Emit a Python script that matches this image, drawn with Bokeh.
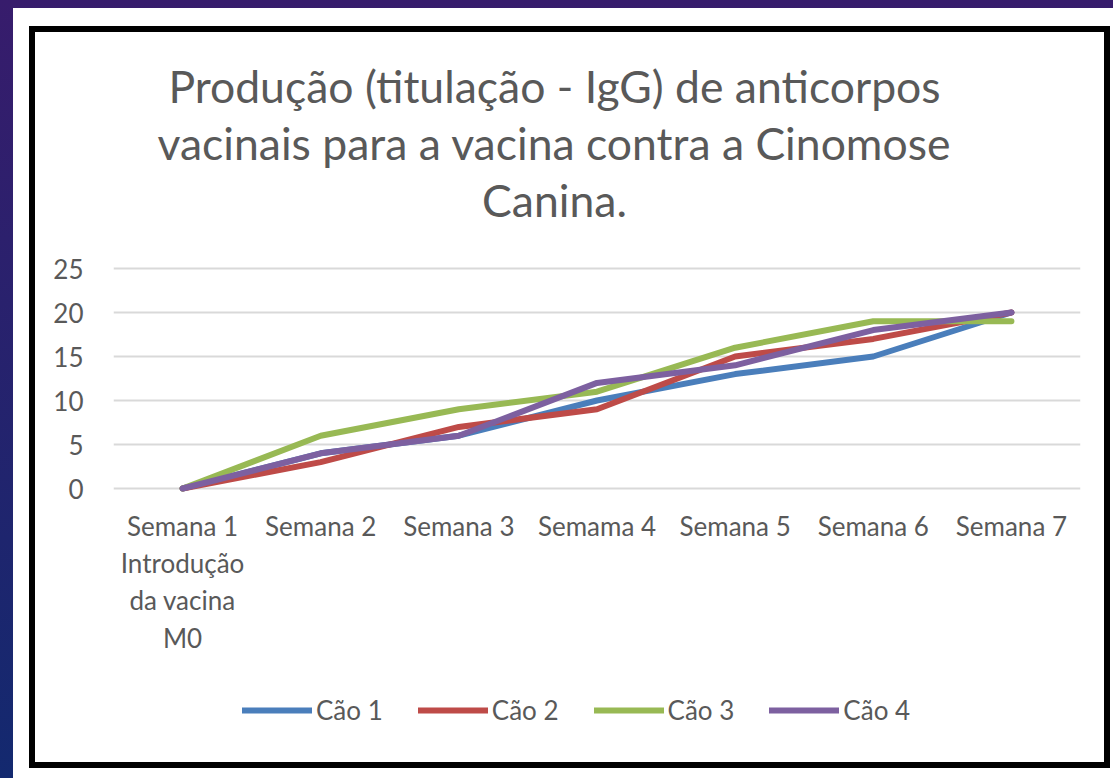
from bokeh.plotting import figure
from bokeh.models import (FactorRange, Range1d, FixedTicker, Legend, LegendItem,
                          Label, GlobalInlineStyleSheet)
from bokeh.embed import file_html
from bokeh.resources import INLINE

# ---- data ----
weeks = ["Semana 1\nIntrodução\nda vacina\nM0", "Semana 2", "Semana 3", "Semama 4",
         "Semana 5", "Semana 6", "Semana 7"]
cao1 = [0, 4, 6, 10, 13, 15, 20]
cao2 = [0, 3, 7, 9, 15, 17, 20]
cao3 = [0, 6, 9, 11, 16, 19, 19]
cao4 = [0, 4, 6, 12, 14, 18, 20]
series_names = ["Cão 1", "Cão 2", "Cão 3", "Cão 4"]
series_colors = ["#4A7EBB", "#BE4B48", "#98B954", "#7D60A0"]
y_ticks = [0, 5, 10, 15, 20, 25]
title_lines = ["Produção (titulação - IgG) de anticorpos",
               "vacinais para a vacina contra a Cinomose",
               "Canina."]

FONT = "Lato"
GRAY = "#595959"

# ---- layout (pixels) ----
W, H = 1069, 730            # inner white area, inside the black frame
B_LEFT, B_RIGHT = 78, 24
ZERO_FROM_BOTTOM = 274      # pixel distance of the value 0 above the frame bottom
DATA_PX = 220               # pixel height of the 0..25 band
ppu = DATA_PX / y_ticks[-1]
y_start = -ZERO_FROM_BOTTOM / ppu
y_end = (H - ZERO_FROM_BOTTOM) / ppu

p = figure(width=W, height=H, x_range=FactorRange(*weeks), y_range=Range1d(y_start, y_end),
           output_backend="svg", toolbar_location=None,
           min_border_left=B_LEFT, min_border_right=B_RIGHT, min_border_top=0,
           min_border_bottom=0,
           styles={"margin-left": "35px", "margin-top": "32px",
                   "background-color": "#ffffff",
                   "box-shadow": "0 0 0 6px #000000, 1px -1px 0 23px #ffffff"})
p.stylesheets = [GlobalInlineStyleSheet(
    css="html, body { background: linear-gradient(to bottom, #371c6c, #13296f); }")]

p.background_fill_color = "white"
p.border_fill_color = "white"
p.outline_line_color = None

# axes
p.xaxis.fixed_location = 0
p.xaxis.axis_line_color = None
p.xaxis.major_tick_line_color = None
p.xaxis.minor_tick_line_color = None
p.xaxis.major_tick_out = 0
p.xaxis.major_label_text_font = FONT
p.xaxis.major_label_text_font_size = "26px"
p.xaxis.major_label_text_color = GRAY
p.xaxis.major_label_text_line_height = 1.17
p.xaxis.major_label_standoff = 21

p.yaxis.ticker = FixedTicker(ticks=y_ticks)
p.yaxis.axis_line_color = None
p.yaxis.major_tick_line_color = None
p.yaxis.minor_tick_line_color = None
p.yaxis.major_tick_out = 0
p.yaxis.major_label_text_font = FONT
p.yaxis.major_label_text_font_size = "26px"
p.yaxis.major_label_text_color = GRAY
p.yaxis.major_label_standoff = 30

p.xgrid.grid_line_color = None
p.ygrid.ticker = FixedTicker(ticks=y_ticks)
p.ygrid.grid_line_color = "#D9D9D9"
p.ygrid.grid_line_width = 2

renderers = []
for vals, name, col in zip([cao1, cao2, cao3, cao4], series_names, series_colors):
    r = p.line(x=weeks, y=vals, line_width=6, line_color=col,
               line_cap="round", line_join="round")
    renderers.append(r)

legend = Legend(items=[LegendItem(label=n, renderers=[r]) for n, r in zip(series_names, renderers)],
                orientation="horizontal", location=(129, 36),
                glyph_width=70, glyph_height=30, label_standoff=4, spacing=35,
                padding=0, margin=0, border_line_color=None, background_fill_alpha=0,
                label_text_font=FONT, label_text_font_size="26px", label_text_color=GRAY)
p.add_layout(legend, "center")

# title lines, inside the (tall) frame, screen units from frame bottom-left
title_y = [677, 620, 563]
for t, ty in zip(title_lines, title_y):
    p.add_layout(Label(x=441, y=ty, x_units="screen", y_units="screen", text=t,
                       text_align="center", text_baseline="alphabetic",
                       text_font=FONT, text_font_size="44.5px", text_color=GRAY))

open("out.html", "w").write(file_html(p, INLINE))
